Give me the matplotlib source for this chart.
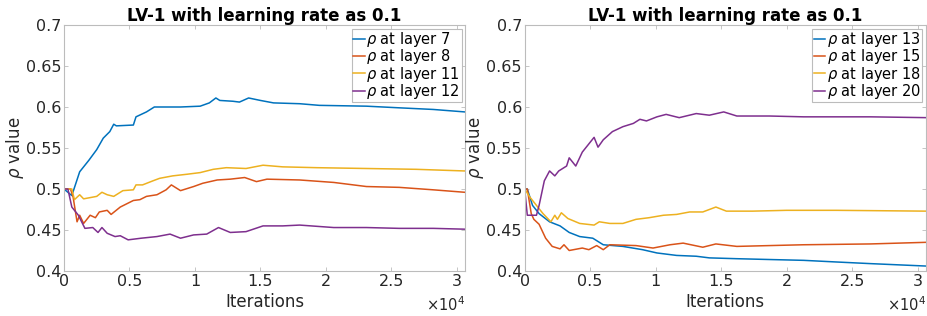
import numpy as np
from matplotlib import pyplot as plt
from matplotlib.ticker import FuncFormatter

# iterations / rho values
x7 = [0, 600, 1200, 1900, 2500, 3000, 3500, 3800, 4000, 5300, 5500, 6300, 6900, 8900,
      10400, 11100, 11600, 11900, 12900, 13400, 14100, 15000, 16000, 18000, 19500,
      23100, 25600, 28200, 30600]
y7 = [0.5, 0.492, 0.521, 0.535, 0.548, 0.562, 0.57, 0.579, 0.577, 0.578, 0.588, 0.594,
      0.6, 0.6, 0.601, 0.605, 0.611, 0.608, 0.607, 0.606, 0.611, 0.608, 0.605, 0.604,
      0.602, 0.601, 0.599, 0.597, 0.594]

x8 = [0, 500, 700, 1000, 1200, 1500, 2000, 2400, 2700, 3300, 3600, 4300, 5300, 5800,
      6300, 7100, 7800, 8200, 8900, 9900, 10600, 11700, 12700, 13800, 14700, 15500,
      18000, 20600, 23100, 25600, 28200, 30600]
y8 = [0.5, 0.5, 0.49, 0.46, 0.468, 0.458, 0.468, 0.465, 0.472, 0.474, 0.469, 0.478,
      0.486, 0.487, 0.491, 0.493, 0.499, 0.505, 0.498, 0.503, 0.507, 0.511, 0.512,
      0.514, 0.509, 0.512, 0.511, 0.508, 0.503, 0.502, 0.499, 0.496]

x11 = [0, 600, 800, 1200, 1500, 2500, 2900, 3300, 3800, 4500, 5300, 5500, 6000, 6800,
       7300, 8300, 9400, 10400, 11400, 12400, 13900, 15200, 16700, 19300, 23100,
       26900, 30600]
y11 = [0.5, 0.5, 0.487, 0.493, 0.488, 0.491, 0.496, 0.493, 0.491, 0.498, 0.499, 0.505,
       0.505, 0.51, 0.513, 0.516, 0.518, 0.52, 0.524, 0.526, 0.525, 0.529, 0.527,
       0.526, 0.525, 0.524, 0.522]

x12 = [0, 300, 600, 1100, 1600, 2200, 2600, 2900, 3300, 3900, 4300, 4900, 5900, 7100,
       8100, 8900, 9900, 10900, 11800, 12700, 13900, 15200, 16700, 18000, 20600,
       23100, 25600, 28200, 30600]
y12 = [0.5, 0.5, 0.478, 0.468, 0.452, 0.453, 0.447, 0.453, 0.446, 0.442, 0.443, 0.438,
       0.44, 0.442, 0.445, 0.44, 0.444, 0.445, 0.453, 0.447, 0.448, 0.455, 0.455,
       0.456, 0.453, 0.453, 0.452, 0.452, 0.451]

x13 = [0, 200, 600, 1100, 1900, 2700, 3400, 4200, 5200, 6000, 7500, 9000, 10100, 11600,
       13100, 14100, 16200, 18700, 21300, 23800, 26400, 30700]
y13 = [0.5, 0.5, 0.48, 0.47, 0.46, 0.455, 0.447, 0.442, 0.44, 0.432, 0.43, 0.426,
       0.422, 0.419, 0.418, 0.416, 0.415, 0.414, 0.413, 0.411, 0.409, 0.406]

x15 = [0, 200, 500, 700, 1100, 1600, 2100, 2700, 3000, 3400, 4400, 4900, 5500, 6000,
       6500, 8500, 9800, 11100, 12100, 13600, 14600, 16200, 18700, 21300, 26400, 30700]
y15 = [0.5, 0.5, 0.47, 0.463, 0.457, 0.44, 0.43, 0.427, 0.432, 0.425, 0.428, 0.426,
       0.431, 0.426, 0.432, 0.431, 0.428, 0.432, 0.434, 0.429, 0.433, 0.43, 0.431,
       0.432, 0.433, 0.435]

x18 = [0, 400, 900, 1400, 2000, 2300, 2500, 2800, 3300, 4200, 5300, 5700, 6500, 7500,
       8500, 9500, 10600, 11600, 12600, 13600, 14600, 15400, 17400, 20000, 23800, 30700]
y18 = [0.5, 0.49, 0.48, 0.47, 0.46, 0.468, 0.463, 0.471, 0.464, 0.458, 0.456, 0.46,
       0.458, 0.458, 0.463, 0.465, 0.468, 0.469, 0.472, 0.472, 0.478, 0.473, 0.473,
       0.474, 0.474, 0.473]

x20 = [0, 200, 900, 1100, 1500, 1900, 2300, 2600, 3200, 3400, 3900, 4400, 5300, 5600,
       6000, 6700, 7500, 8300, 8800, 9300, 10100, 10800, 11800, 13100, 14100, 15200,
       16200, 18700, 21300, 23800, 26400, 30700]
y20 = [0.5, 0.468, 0.468, 0.48, 0.51, 0.522, 0.516, 0.522, 0.528, 0.538, 0.528, 0.545,
       0.563, 0.551, 0.56, 0.57, 0.576, 0.58, 0.585, 0.583, 0.588, 0.591, 0.587, 0.592,
       0.59, 0.594, 0.589, 0.589, 0.588, 0.588, 0.588, 0.587]

colors = ['#0072BD', '#D95319', '#EDB120', '#7E2F8E']
left = [(x7, y7, 7), (x8, y8, 8), (x11, y11, 11), (x12, y12, 12)]
right = [(x13, y13, 13), (x15, y15, 15), (x18, y18, 18), (x20, y20, 20)]

plt.rcParams['font.family'] = 'DejaVu Sans'
fig = plt.figure(figsize=(9.27, 3.16), dpi=100)
ax1 = fig.add_axes([0.069, 0.1424, 0.433, 0.7785])
ax2 = fig.add_axes([0.566, 0.1424, 0.433, 0.7785])

for ax, series in [(ax1, left), (ax2, right)]:
    for (xs, ys, layer), c in zip(series, colors):
        ax.plot(xs, ys, color=c, lw=1.1, label=r'$\rho$ at layer %d' % layer)
    ax.set_xlim(0, 30650)
    ax.set_ylim(0.4, 0.7)
    ax.set_xticks(np.arange(0, 30001, 5000))
    ax.set_yticks(np.arange(0.4, 0.701, 0.05))
    ax.xaxis.set_major_formatter(FuncFormatter(lambda v, p: '%g' % (v / 1e4)))
    ax.yaxis.set_major_formatter(FuncFormatter(lambda v, p: '%g' % round(v, 2)))
    ax.tick_params(direction='in', top=True, right=True, length=3, width=0.6,
                   color='#bcbcbc', labelsize=11.5, labelcolor='#262626', pad=2)
    for s in ax.spines.values():
        s.set_color('#bcbcbc')
        s.set_linewidth(0.8)
    ax.set_title('LV-1 with learning rate as 0.1', fontsize=12, fontweight='bold', pad=3)
    ax.set_xlabel('Iterations', fontsize=12, color='#262626', labelpad=3)
    ax.set_ylabel(r'$\rho$ value', fontsize=12, color='#262626', labelpad=0)
    leg = ax.legend(loc='upper right', fontsize=10.5, handlelength=0.8, handletextpad=0.1,
                    borderaxespad=0.25, borderpad=0.1, labelspacing=-0.12, fancybox=False,
                    framealpha=1, edgecolor='#bcbcbc')
    leg.get_frame().set_linewidth(0.8)

# x10^4 multipliers under the right end of each axis
for xr in [0.502, 0.999]:
    fig.text(xr, 0.006, r'$\times 10^4$', ha='right', va='bottom', fontsize=10.5,
             color='#262626')

fig.savefig('out.png', dpi=100)
